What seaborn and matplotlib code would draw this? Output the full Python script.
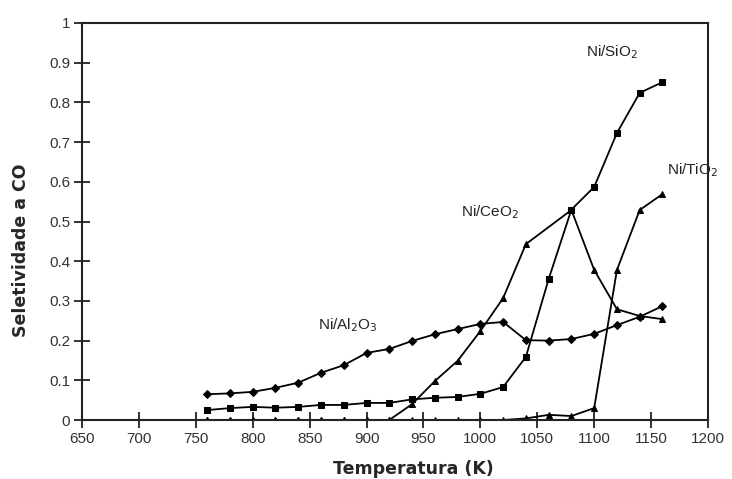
import matplotlib
matplotlib.use("Agg")
import matplotlib.pyplot as plt
import seaborn as sns
import pandas as pd

# Data
temp_al = [760, 780, 800, 820, 840, 860, 880, 900, 920, 940, 960, 980, 1000, 1020,
           1040, 1060, 1080, 1100, 1120, 1140, 1160]
sel_al = [0.065, 0.067, 0.071, 0.081, 0.094, 0.119, 0.138, 0.169, 0.179, 0.199, 0.216,
          0.229, 0.242, 0.247, 0.201, 0.200, 0.204, 0.217, 0.239, 0.260, 0.287]

temp_si = [760, 780, 800, 820, 840, 860, 880, 900, 920, 940, 960, 980, 1000, 1020,
           1040, 1060, 1080, 1100, 1120, 1140, 1160]
sel_si = [0.025, 0.030, 0.033, 0.031, 0.033, 0.038, 0.038, 0.043, 0.043, 0.052, 0.056,
          0.058, 0.066, 0.083, 0.159, 0.355, 0.530, 0.587, 0.723, 0.824, 0.851]

temp_ce = [760, 780, 800, 820, 840, 860, 880, 900, 920, 940, 960, 980, 1000, 1020,
           1040, 1080, 1100, 1120, 1140, 1160]
sel_ce = [0, 0, 0, 0, 0, 0, 0, 0, 0, 0.040, 0.098, 0.149, 0.224, 0.307,
          0.443, 0.529, 0.378, 0.279, 0.262, 0.254]

temp_ti = [760, 780, 800, 820, 840, 860, 880, 900, 920, 940, 960, 980, 1000, 1020,
           1040, 1060, 1080, 1100, 1120, 1140, 1160]
sel_ti = [0, 0, 0, 0, 0, 0, 0, 0, 0, 0, 0, 0, 0, 0,
          0.004, 0.013, 0.010, 0.030, 0.378, 0.529, 0.569]

series_names = ["Ni/Al$_2$O$_3$", "Ni/SiO$_2$", "Ni/CeO$_2$", "Ni/TiO$_2$"]
x_ticks = [650, 700, 750, 800, 850, 900, 950, 1000, 1050, 1100, 1150, 1200]
y_ticks = [0, 0.1, 0.2, 0.3, 0.4, 0.5, 0.6, 0.7, 0.8, 0.9, 1]
y_tick_labels = ["0", "0.1", "0.2", "0.3", "0.4", "0.5", "0.6", "0.7", "0.8", "0.9", "1"]

sns.set_style("white")
plt.rcParams["font.family"] = ["Liberation Sans", "DejaVu Sans"]

fig = plt.figure(figsize=(7.32, 4.79), dpi=100)
ax = fig.add_axes([82 / 732, 1 - 420 / 479, (708 - 82) / 732, (420 - 23) / 479])

specs = [(temp_al, sel_al, "D", 4.0),
         (temp_si, sel_si, "s", 4.5),
         (temp_ce, sel_ce, "^", 4.5),
         (temp_ti, sel_ti, "^", 4.5)]
for (t, s, m, ms), name in zip(specs, series_names):
    df = pd.DataFrame({"T": t, "S": s})
    sns.lineplot(data=df, x="T", y="S", ax=ax, color="black", linewidth=1.3,
                 marker=m, markersize=ms, markeredgecolor="black",
                 markerfacecolor="black", sort=False, label=None)

ax.set_xlim(650, 1200)
ax.set_ylim(0, 1)
ax.set_xticks(x_ticks)
ax.set_yticks(y_ticks)
ax.set_yticklabels(y_tick_labels)
ax.tick_params(axis="both", which="major", bottom=True, left=True, top=False, right=False,
               direction="inout", length=11, width=1.3,
               color="#222222", labelsize=11, labelcolor="#333333")
ax.tick_params(axis="x", pad=3)
ax.tick_params(axis="y", pad=3)
for sp in ax.spines.values():
    sp.set_visible(True)
    sp.set_color("#222222")
    sp.set_linewidth(1.5)

ax.set_xlabel("")
ax.set_ylabel("")
fig.text(413 / 732, 1 - 469 / 479, "Temperatura (K)", fontsize=12.5, fontweight="bold",
         family="DejaVu Sans", ha="center", va="center")
fig.text(21 / 732, 1 - 250 / 479, "Seletividade a CO", fontsize=12.5, fontweight="bold",
         family="DejaVu Sans", ha="center", va="center", rotation=90)

label_pos = [(348, 325), (612, 52), (490, 212), (693, 170)]
for name, (px, py) in zip(series_names, label_pos):
    fig.text(px / 732, 1 - py / 479, name, fontsize=11, ha="center", va="center",
             color="#222222")

if ax.get_legend() is not None:
    ax.get_legend().remove()

fig.savefig("out.png", dpi=100)
